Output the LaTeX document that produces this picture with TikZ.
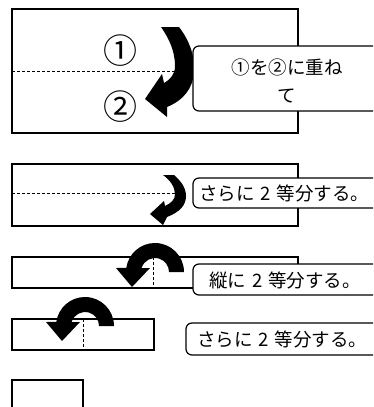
\documentclass[tikz,border=0pt]{standalone}
\usepackage{fontspec}
\setmainfont{Noto Sans CJK JP}
\begin{document}
\begin{tikzpicture}[x=1pt,y=-1pt,
  paper/.style={draw=black,line width=2pt,fill=white},
  fold/.style={draw=black,line width=0.9pt,dash pattern=on 3pt off 2pt},
  callout/.style={draw=black,line width=1.2pt,fill=white,rounded corners=6pt},
  turn/.style={fill=black},
  lbl/.style={font=\fontsize{18.5}{28}\selectfont,inner sep=0pt},
  num/.style={font=\fontsize{34}{34}\selectfont,inner sep=0pt}]
\useasboundingbox (0,0) rectangle (373,407);
\clip (0,0) rectangle (373,407);
% step 1
\draw[paper] (12,9) rectangle (298,133);
\draw[fold] (12,71) -- (175,71);
\fill[turn] (161,27) -- (179,27) .. controls (189,40) and (195,55) .. (194,72) .. controls (193,88) and (184,100) .. (167,107) -- (167,117) -- (145,99) -- (162,74) -- (164,83) .. controls (171,79) and (175,74) .. (175,66) .. controls (175,50) and (168,37) .. (161,27) -- cycle;
\node[num] (n1) at (120,51) {①};
\node[num] (n2) at (120,107) {②};
\draw[callout] (193,46) rectangle (390,111);
\node[lbl,align=center] (t1) at (287,81) {①を②に重ね\\て};
% step 2
\draw[paper] (12,164) rectangle (298,226);
\draw[fold] (12,193) -- (175,193);
\fill[turn] (163,175) -- (174,175) .. controls (181,181) and (186,188) .. (186,196) .. controls (186,205) and (180,212) .. (167,217) -- (163,225) -- (150,214) -- (164,201) -- (165,206) .. controls (171,203) and (175,200) .. (175,194) .. controls (175,187) and (170,180) .. (163,175) -- cycle;
\draw[callout] (193,178) rectangle (390,208);
\node[lbl,anchor=west] (t2) at (199,193) {さらに\hspace{6pt}2\hspace{6pt}等分する。};
% step 3
\draw[paper] (12,257) rectangle (298,288);
\draw[fold] (153,257) -- (153,288);
\fill[turn,shift={(155,272)}] (14,0) -- (29,0) arc[start angle=0,end angle=-172,radius=29] -- (-39,-4) -- (-23,15) -- (-5,-4) -- (-13.4,-4) arc[start angle=-163.4,end angle=0,radius=14] -- cycle;
\draw[callout] (193,264) rectangle (390,295);
\node[lbl,anchor=west] (t3) at (209,280) {縦に\hspace{6pt}2\hspace{6pt}等分する。};
% step 4
\draw[paper] (12,319) rectangle (154,350);
\draw[fold] (83,319) -- (83,350);
\fill[turn,shift={(85,326)}] (14,0) -- (29,0) arc[start angle=0,end angle=-172,radius=29] -- (-39,-4) -- (-23,15) -- (-5,-4) -- (-13.4,-4) arc[start angle=-163.4,end angle=0,radius=14] -- cycle;
\draw[callout] (186,323) rectangle (390,355);
\node[lbl,anchor=west] (t4) at (197,339) {さらに\hspace{6pt}2\hspace{6pt}等分する。};
% step 5
\draw[paper] (12,380) rectangle (83,420);
\end{tikzpicture}
\end{document}
